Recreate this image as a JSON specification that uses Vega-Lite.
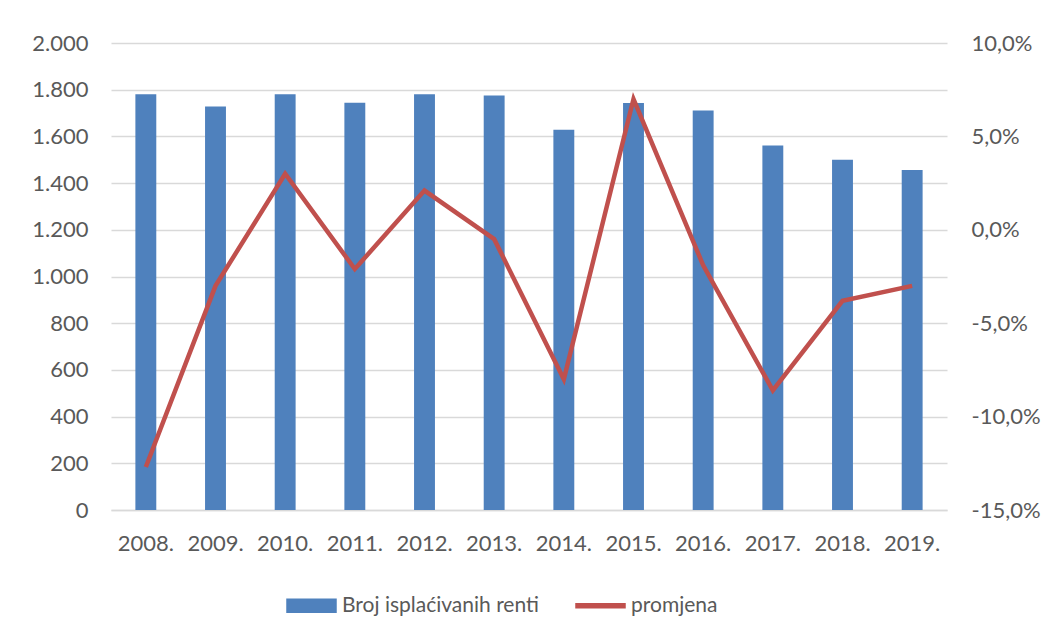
{
  "$schema": "https://vega.github.io/schema/vega-lite/v6.json",
  "width": 836,
  "height": 467,
  "autosize": {"type": "none"},
  "padding": {"left": 111, "top": 43, "right": 106, "bottom": 129},
  "background": "white",
  "config": {
    "font": "Lato",
    "view": {"stroke": null},
    "axis": {"labelColor": "#595959", "labelFont": "Lato", "labelFontSize": 22, "title": null}
  },
  "data": {
    "values": [
      {"year": "2008.", "count": 1781, "change": -0.127},
      {"year": "2009.", "count": 1728, "change": -0.030},
      {"year": "2010.", "count": 1781, "change": 0.030},
      {"year": "2011.", "count": 1744, "change": -0.021},
      {"year": "2012.", "count": 1780, "change": 0.021},
      {"year": "2013.", "count": 1775, "change": -0.005},
      {"year": "2014.", "count": 1629, "change": -0.080},
      {"year": "2015.", "count": 1743, "change": 0.070},
      {"year": "2016.", "count": 1711, "change": -0.019},
      {"year": "2017.", "count": 1561, "change": -0.086},
      {"year": "2018.", "count": 1500, "change": -0.038},
      {"year": "2019.", "count": 1456, "change": -0.030}
    ]
  },
  "encoding": {
    "x": {
      "field": "year",
      "type": "nominal",
      "sort": null,
      "scale": {"paddingInner": 0.7, "paddingOuter": 0.35},
      "axis": {
        "labelAngle": 0,
        "domain": true,
        "domainColor": "#D9D9D9",
        "domainWidth": 1.5,
        "ticks": false,
        "labelPadding": 23,
        "title": null
      }
    }
  },
  "layer": [
    {
      "mark": {"type": "bar"},
      "encoding": {
        "y": {
          "field": "count",
          "type": "quantitative",
          "scale": {"domain": [0, 2000], "nice": false},
          "axis": {
            "values": [0, 200, 400, 600, 800, 1000, 1200, 1400, 1600, 1800, 2000],
            "labelExpr": "replace(format(datum.value, ','), ',', '.')",
            "domain": false,
            "ticks": false,
            "grid": true,
            "gridColor": "#D9D9D9",
            "gridWidth": 1.5,
            "labelPadding": 23,
            "title": null
          }
        },
        "color": {
          "datum": "Broj isplaćivanih renti",
          "type": "nominal",
          "scale": {"domain": ["Broj isplaćivanih renti", "promjena"], "range": ["#4F81BD", "#C0504D"]},
          "legend": {
            "orient": "none",
            "legendX": 175,
            "legendY": 537,
            "direction": "horizontal",
            "title": null,
            "symbolSize": 2401,
            "symbolType": "M-1,-0.265H1V0.265H-1Z",
            "labelFontSize": 21,
            "labelFont": "Lato",
            "labelColor": "#595959",
            "labelLimit": 500,
            "labelOffset": 5,
            "columnPadding": 34,
            "padding": 0,
            "encode": {
              "symbols": {
                "update": {
                  "shape": {"signal": "datum.value === 'promjena' ? 'M-1,-0.08H1V0.08H-1Z' : 'M-1,-0.265H1V0.265H-1Z'"},
                  "fill": {"signal": "datum.value === 'promjena' ? '#C0504D' : '#4F81BD'"},
                  "stroke": {"value": "transparent"},
                  "opacity": {"value": 1},
                  "fillOpacity": {"value": 1}
                }
              }
            }
          }
        }
      }
    },
    {
      "mark": {"type": "line", "strokeWidth": 4.5},
      "encoding": {
        "y": {
          "field": "change",
          "type": "quantitative",
          "scale": {"domain": [-0.15, 0.1], "nice": false},
          "axis": {
            "orient": "right",
            "values": [-0.15, -0.1, -0.05, 0, 0.05, 0.1],
            "labelExpr": "replace(replace(format(datum.value, '.1%'), '.', ','), '\u2212', '-')",
            "domain": false,
            "ticks": false,
            "grid": false,
            "labelPadding": 24,
            "labelAlign": "left",
            "title": null
          }
        },
        "color": {"datum": "promjena", "type": "nominal"}
      }
    }
  ],
  "resolve": {"scale": {"y": "independent"}}
}
